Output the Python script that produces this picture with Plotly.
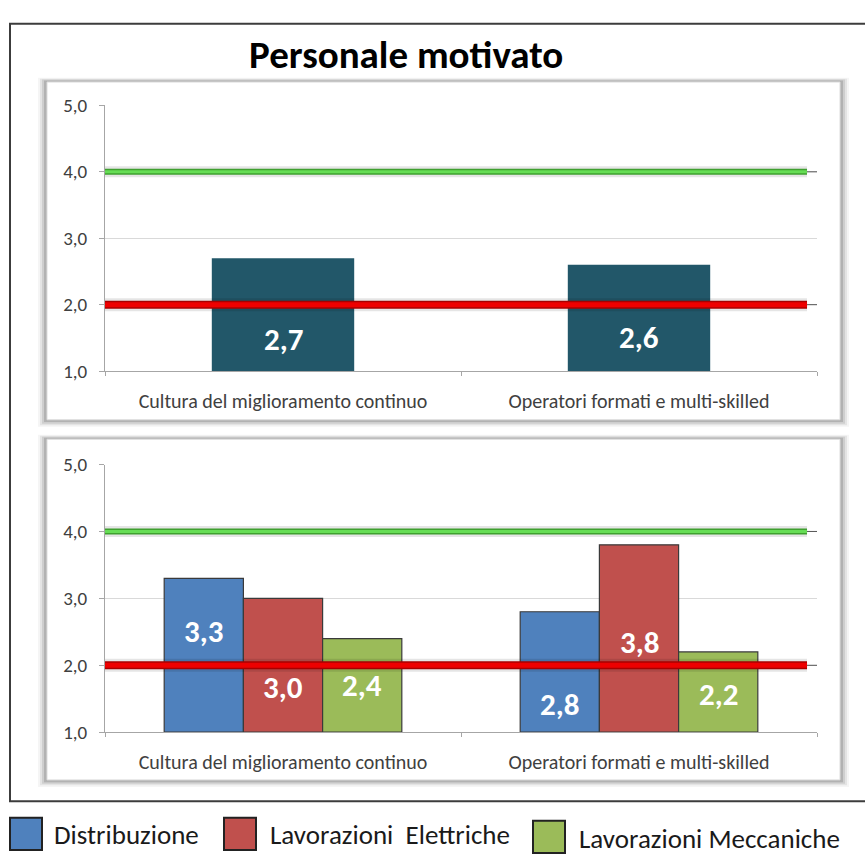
import plotly.graph_objects as go

# ---- data -------------------------------------------------------------
categories = ["Cultura del miglioramento continuo", "Operatori formati e multi-skilled"]
overall_values = [2.7, 2.6]

series_names = ["Distribuzione", "Lavorazioni  Elettriche", "Lavorazioni Meccaniche"]
distribuzione = [3.3, 2.8]
elettriche = [3.0, 3.8]
meccaniche = [2.4, 2.2]

target_level = 4.0
minimum_level = 2.0
y_ticks = [1.0, 2.0, 3.0, 4.0, 5.0]

title_text = "Personale motivato"

# ---- styling ----------------------------------------------------------
W, H = 865, 861
FONT = "Calibri, Carlito, Lato, sans-serif"
TEAL = "#225769"
SERIES_COLORS = ["#4F81BD", "#C0504D", "#9BBB59"]
AXIS_GREY = "#A6A6A6"
GRID_GREY = "#D9D9D9"
TEXT_GREY = "#404040"


def px(x):
    return x / W


def py(y):
    return 1 - y / H


def fmt(v):
    return f"{v:.1f}".replace(".", ",")


fig = go.Figure()

# overall bars (top panel)
fig.add_trace(go.Bar(
    x=[0, 1], y=[v - 1 for v in overall_values], base=1,
    width=0.4, marker=dict(color=TEAL, line=dict(width=0)),
    xaxis="x", yaxis="y", showlegend=False, hoverinfo="skip",
))

# per-area bars (bottom panel)
bar_w = 0.2225
for i, (name, vals) in enumerate(zip(series_names, [distribuzione, elettriche, meccaniche])):
    fig.add_trace(go.Bar(
        x=[0, 1], y=[v - 1 for v in vals], base=1,
        width=bar_w, offset=-1.5 * bar_w + i * bar_w,
        marker=dict(color=SERIES_COLORS[i], line=dict(color="#3A3A3A", width=1.2)),
        name=name, xaxis="x2", yaxis="y2", showlegend=False, hoverinfo="skip",
    ))

shapes = []
annotations = []

# outer frame
shapes.append(dict(type="rect", xref="paper", yref="paper",
                   x0=px(10), x1=px(870), y0=py(812), y1=py(13),
                   line=dict(color="#3C3C3C", width=2), layer="below"))

# panel boxes with soft shadow
for top, bottom in [(73, 420), (440, 790)]:
    for grow, alpha in [(9, 0.06), (7, 0.10), (5, 0.15), (3, 0.22)]:
        shapes.append(dict(type="rect", xref="paper", yref="paper",
                           x0=px(47 - grow), x1=px(840 + grow),
                           y0=py(bottom + grow * 0.8), y1=py(top - grow * 0.5),
                           fillcolor=f"rgba(80,80,80,{alpha})", line=dict(width=0),
                           layer="below"))
    shapes.append(dict(type="rect", xref="paper", yref="paper",
                       x0=px(47), x1=px(840), y0=py(bottom), y1=py(top),
                       fillcolor="white", line=dict(color="#DDDDDD", width=1),
                       layer="below"))

# reference levels on both panels
for xa, ya in [("x", "y"), ("x2", "y2")]:
    for level, dark, bright, wid in [(target_level, "#3F9F2F", "#66DD55", 6),
                                      (minimum_level, "#A80000", "#EE0000", 8)]:
        shapes.append(dict(type="line", xref=xa, yref=ya, x0=-0.514, x1=1.472,
                           y0=level, y1=level, layer="above",
                           line=dict(color="rgba(0,0,0,0.10)", width=wid + 5)))
        shapes.append(dict(type="line", xref=xa, yref=ya, x0=-0.514, x1=1.472,
                           y0=level, y1=level, layer="above",
                           line=dict(color=dark, width=wid)))
        shapes.append(dict(type="line", xref=xa, yref=ya, x0=-0.514, x1=1.472,
                           y0=level, y1=level, layer="above",
                           line=dict(color=bright, width=wid - 3)))
        shapes.append(dict(type="line", xref=xa, yref=ya, x0=1.472, x1=1.5,
                           y0=level, y1=level, layer="above",
                           line=dict(color="#555555", width=1)))

# value labels on the bars
LABEL_FONT = dict(family=FONT, size=31, color="white")
top_label_y = [1.48, 1.51]
for i, v in enumerate(overall_values):
    annotations.append(dict(x=i, y=top_label_y[i], xref="x", yref="y",
                            xanchor="center", yanchor="middle",
                            text=f"<b>{fmt(v)}</b>", showarrow=False, font=LABEL_FONT))

bottom_label_y = [[2.51, 1.42], [1.67, 2.35], [1.70, 1.57]]
for i, vals in enumerate([distribuzione, elettriche, meccaniche]):
    for j, v in enumerate(vals):
        annotations.append(dict(x=j - bar_w + i * bar_w, y=bottom_label_y[i][j],
                                xref="x2", yref="y2", xanchor="center", yanchor="middle",
                                text=f"<b>{fmt(v)}</b>", showarrow=False, font=LABEL_FONT))

# title
annotations.append(dict(x=px(406), y=py(45), xref="paper", yref="paper",
                        xanchor="center", yanchor="middle",
                        text=f"<b>{title_text}</b>", showarrow=False,
                        font=dict(family=FONT, size=39, color="black")))

# legend drawn below the frame
legend_boxes = [(10, 829), (224, 829), (533, 832)]
legend_text_x = [52, 268, 577]
legend_text_y = [846, 846, 850]
for k, name in enumerate(series_names):
    x0, y0 = legend_boxes[k]
    shapes.append(dict(type="rect", xref="paper", yref="paper",
                       x0=px(x0), x1=px(x0 + 32), y0=py(y0 + 33), y1=py(y0),
                       fillcolor=SERIES_COLORS[k], line=dict(color="#222222", width=2)))
    annotations.append(dict(x=px(legend_text_x[k]), y=py(legend_text_y[k]),
                            xref="paper", yref="paper", xanchor="left", yanchor="middle",
                            text=name.replace("  ", "&nbsp; "), showarrow=False,
                            font=dict(family=FONT, size=27, color="#1A1A1A")))


def xaxis_cfg(anchor):
    return dict(
        domain=[px(105), px(817)], range=[-0.5, 1.5], anchor=anchor,
        tickvals=[0, 1], ticktext=categories, ticks="",
        minor=dict(tickvals=[-0.5, 0.5, 1.5], ticks="outside", ticklen=4,
                   tickcolor=AXIS_GREY, showgrid=False),
        showline=True, linecolor=AXIS_GREY, linewidth=1,
        showgrid=False, zeroline=False, fixedrange=True,
        tickfont=dict(family=FONT, size=20, color=TEXT_GREY),
        ticklabelstandoff=12,
    )


def yaxis_cfg(anchor, top, bottom):
    return dict(
        domain=[py(bottom), py(top)], range=[1, 5], anchor=anchor,
        tickvals=y_ticks, tickformat=".1f",
        ticks="outside", ticklen=5, tickcolor=AXIS_GREY,
        showline=True, linecolor=AXIS_GREY, linewidth=1,
        showgrid=True, gridcolor=GRID_GREY, gridwidth=1, zeroline=False,
        tickfont=dict(family=FONT, size=19, color=TEXT_GREY),
        ticklabelstandoff=8, fixedrange=True,
    )


fig.update_layout(
    width=W, height=H,
    margin=dict(l=0, r=0, t=0, b=0),
    paper_bgcolor="white", plot_bgcolor="rgba(0,0,0,0)",
    separators=",.",
    barmode="overlay",
    xaxis=xaxis_cfg("y"),
    yaxis=yaxis_cfg("x", 97, 370),
    xaxis2=xaxis_cfg("y2"),
    yaxis2=yaxis_cfg("x2", 466, 741),
    shapes=shapes,
    annotations=annotations,
    showlegend=False,
    font=dict(family=FONT),
)

fig.write_html("out.html", post_script="document.body.style.margin='0';")
